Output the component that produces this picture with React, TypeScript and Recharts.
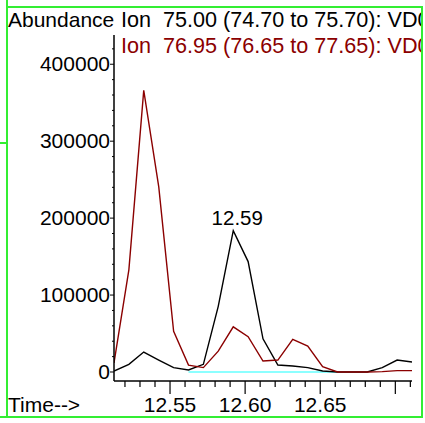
import React from "react";
import { LabelList, Line, LineChart, XAxis, YAxis } from "recharts";

// retention time (min) of each scan
const times = [
  12.5127, 12.5226, 12.5325, 12.5425, 12.5524, 12.5623, 12.5722, 12.5821, 12.5921, 12.602,
  12.6119, 12.6218, 12.6317, 12.6417, 12.6516, 12.6615, 12.6714, 12.6813, 12.6913, 12.7012,
  12.7111,
];
// extracted ion abundances
const ion75 = [
  1300, 10000, 25900, 15500, 5700, 2600, 10000, 85300, 183600, 143500, 43200, 9000, 7800, 5700,
  1300, 0, 0, 0, 5700, 15500, 12900,
];
const ion7695 = [
  11700, 132800, 366000, 240500, 53000, 9000, 5700, 27100, 58700, 45800, 14200, 15500, 42300,
  33600, 7000, 0, 0, 0, 500, 1800, 1800,
];
// integration baseline under the 12.59 peak
const baselineTimes = [12.5623, 12.6615];
const baselineLevel = [0, 0];

const yTicks = [
  0, 20000, 40000, 60000, 80000, 100000, 120000, 140000, 160000, 180000, 200000, 220000, 240000,
  260000, 280000, 300000, 320000, 340000, 360000, 380000, 400000, 420000,
];
const yLabels = [0, 100000, 200000, 300000, 400000];
const xTicks = [
  12.52, 12.53, 12.54, 12.55, 12.56, 12.57, 12.58, 12.59, 12.6, 12.61, 12.62, 12.63, 12.64, 12.65,
  12.66, 12.67, 12.68, 12.69, 12.7, 12.71,
];
const xLabels = [12.55, 12.6, 12.65];

const headerLines = [
  { text: "Ion  75.00 (74.70 to 75.70): VD0", color: "#000000" },
  { text: "Ion  76.95 (76.65 to 77.65): VD0", color: "#8b0000" },
];

const FONT = "'Liberation Sans', Arial, sans-serif";
const RED = "#8b0000";
const GREEN = "#33ee33";

const rows = times.map((t, i) => ({ t, a: ion75[i], b: ion7695[i] }));
const baselineRows = baselineTimes.map((t, i) => ({ t, base: baselineLevel[i] }));
const peakIndex = ion75.indexOf(Math.max(...ion75));

function YTick(props: any) {
  const { x, y, payload } = props;
  const major = yLabels.includes(payload.value);
  return (
    <g>
      <line x1={x - (major ? 4 : 2)} x2={x} y1={y} y2={y} stroke="#000" strokeWidth={1} />
      {major && (
        <text x={x - 4} y={y + 7} textAnchor="end" fontSize={21} fontFamily={FONT} fill="#000">
          {payload.value}
        </text>
      )}
    </g>
  );
}

function XTick(props: any) {
  const { x, y, payload } = props;
  const v = payload.value;
  const major = Math.abs(v * 20 - Math.round(v * 20)) < 1e-6;
  const labelled = xLabels.some((l) => Math.abs(l - v) < 1e-6);
  return (
    <g>
      <line x1={x} x2={x} y1={y} y2={y + (major ? 13 : 6)} stroke="#000" strokeWidth={1.2} />
      {labelled && (
        <text x={x} y={y + 31} textAnchor="middle" fontSize={21} fontFamily={FONT} fill="#000">
          {v.toFixed(2)}
        </text>
      )}
    </g>
  );
}

function PeakLabel(props: any) {
  if (props.index !== peakIndex) return null;
  const px = props.x ?? props.viewBox?.x;
  const py = props.y ?? props.viewBox?.y;
  return (
    <text x={px + 4} y={py - 6} textAnchor="middle" fontSize={20.5} fontFamily={FONT} fill="#000">
      {times[peakIndex].toFixed(2)}
    </text>
  );
}

export default function App() {
  return (
    <div style={{ position: "fixed", left: 0, top: 0, width: 425, height: 423, background: "#fff" }}>
      <LineChart
        width={425}
        height={423}
        data={rows}
        margin={{ top: 35, right: 13, bottom: 0, left: 0 }}
      >
        <XAxis
          dataKey="t"
          type="number"
          domain={["dataMin", "dataMax"]}
          ticks={xTicks}
          interval={0}
          height={42}
          tickSize={0}
          tickMargin={0}
          tickLine={false}
          tick={<XTick />}
          stroke="#000"
          strokeWidth={1.5}
          allowDataOverflow
        />
        <YAxis
          type="number"
          domain={[-11700, 438000]}
          ticks={yTicks}
          interval={0}
          width={114}
          tickSize={0}
          tickMargin={0}
          tickLine={false}
          tick={<YTick />}
          stroke="#000"
          strokeWidth={1.5}
          allowDataOverflow
        />
        <Line
          data={baselineRows}
          dataKey="base"
          stroke="#66ffff"
          strokeWidth={1.5}
          dot={false}
          isAnimationActive={false}
        />
        <Line
          dataKey="a"
          stroke="#000"
          strokeWidth={1.4}
          dot={false}
          isAnimationActive={false}
        >
          <LabelList dataKey="a" content={<PeakLabel />} />
        </Line>
        <Line dataKey="b" stroke={RED} strokeWidth={1.4} dot={false} isAnimationActive={false} />
      </LineChart>

      <svg
        width={425}
        height={423}
        style={{ position: "absolute", left: 0, top: 0, pointerEvents: "none" }}
      >
        <defs>
          <clipPath id="frameClip">
            <rect x={0} y={0} width={421} height={423} />
          </clipPath>
        </defs>
        <g fontFamily={FONT} clipPath="url(#frameClip)">
          <text x={8} y={27} fill="#000" fontSize={21}>Abundance</text>
          {headerLines.map((h, i) => (
            <text
              key={i}
              x={121}
              y={27 + i * 26}
              fill={h.color}
              fontSize={21.6}
              style={{ whiteSpace: "pre" }}
            >
              {h.text}
            </text>
          ))}
          <text x={8} y={412} fill="#000" fontSize={21}>Time--&gt;</text>
        </g>
        <g stroke={GREEN} strokeWidth={2} fill="none">
          <rect x={7} y={7} width={415} height={410} />
          <line x1={7} x2={7} y1={0} y2={7} />
          <line x1={0} x2={7} y1={143} y2={143} />
          <line x1={0} x2={7} y1={417} y2={417} />
        </g>
      </svg>
    </div>
  );
}
